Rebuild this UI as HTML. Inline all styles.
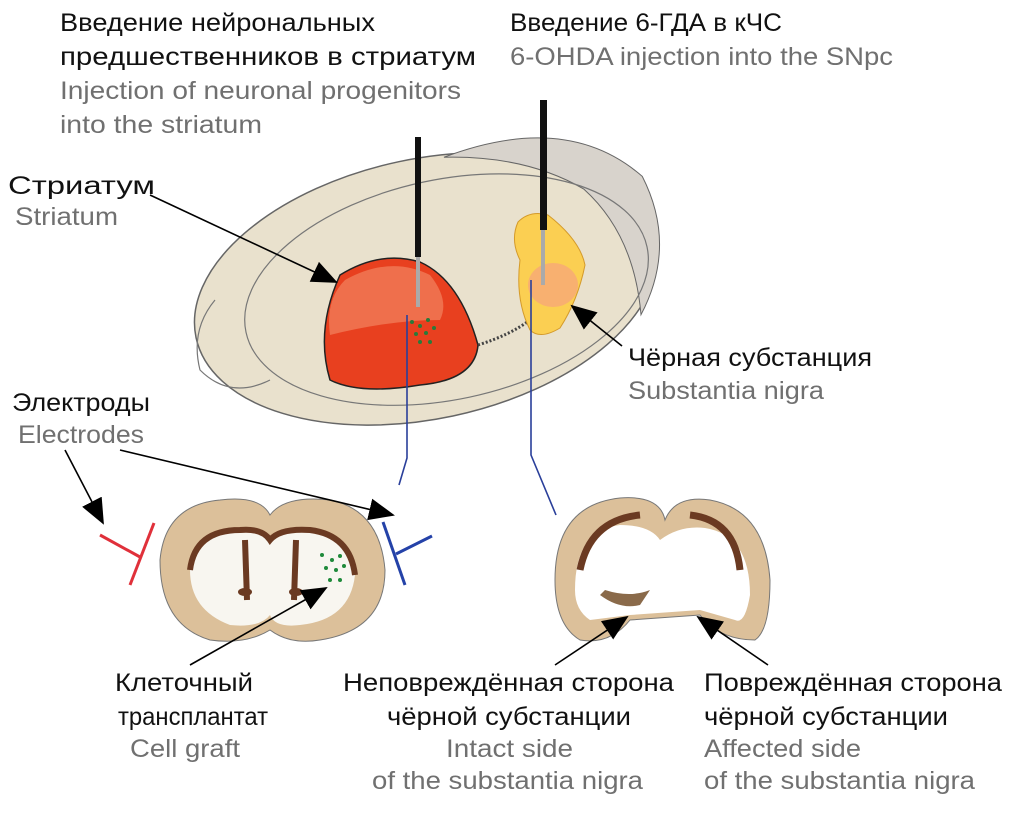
<!DOCTYPE html>
<html><head><meta charset="utf-8"><style>
body{margin:0;background:#fff;width:1017px;height:808px;overflow:hidden}
svg text{font-family:"Liberation Sans","DejaVu Sans",sans-serif;font-size:25px}
.k{fill:#111}.g{fill:#707070}
</style></head><body>
<svg width="1017" height="808" viewBox="0 0 1017 808">
<defs>
<marker id="A" markerWidth="26" markerHeight="22" refX="24" refY="11" orient="auto" markerUnits="userSpaceOnUse"><path d="M0,0L26,11L0,22z" fill="#000"/></marker>
</defs>
<!-- brain -->
<g transform="rotate(-12 420 285)">
<ellipse cx="425" cy="290" rx="235" ry="130" fill="#e9e1cd" stroke="#666" stroke-width="1.5"/>
<path d="M470,165 Q600,145 660,225 Q680,300 630,360 Q640,280 600,225 Q550,180 470,165z" fill="#d8d3cc" stroke="#666"/>
<ellipse cx="445" cy="295" rx="205" ry="110" fill="none" stroke="#777" stroke-width="1.2"/>
</g>
<path d="M215,300 Q190,330 200,370 Q230,400 270,380" fill="none" stroke="#777" stroke-width="1.2"/>
<!-- striatum -->
<path d="M340,275 Q380,250 420,262 Q460,280 478,345 Q475,380 420,385 Q360,395 330,380 Q315,330 340,275z" fill="#e8401f" stroke="#222" stroke-width="1.5"/>
<path d="M345,280 Q390,255 430,275 Q450,300 440,320 Q390,320 330,335 Q325,300 345,280z" fill="#f07a58" opacity=".8"/>
<path d="M478,345 Q510,335 530,320" fill="none" stroke="#444" stroke-dasharray="2 2" stroke-width="3"/>
<!-- SN -->
<path d="M518,222 Q530,210 548,215 Q580,240 585,265 Q578,300 560,328 Q540,340 530,330 Q515,300 520,260 Q510,240 518,222z" fill="#fbcf52" stroke="#d49a2a"/>
<ellipse cx="553" cy="285" rx="25" ry="22" fill="#f8b070"/>
<!-- needles -->
<rect x="415" y="137" width="6" height="120" fill="#111"/><rect x="416" y="257" width="4" height="50" fill="#aaa"/>
<rect x="540" y="100" width="7" height="130" fill="#111"/><rect x="541" y="230" width="4" height="55" fill="#aaa"/>
<g fill="#2a7a3a"><circle cx="412" cy="322" r="2"/><circle cx="420" cy="326" r="2"/><circle cx="428" cy="320" r="2"/><circle cx="416" cy="334" r="2"/><circle cx="426" cy="333" r="2"/><circle cx="434" cy="328" r="2"/><circle cx="420" cy="342" r="2"/><circle cx="430" cy="342" r="2"/></g>
<!-- blue lines -->
<polyline points="407,315 407,458 399,485" fill="none" stroke="#2a3f9a" stroke-width="1.6"/>
<polyline points="531,280 531,455 556,515" fill="none" stroke="#2a3f9a" stroke-width="1.6"/>
<!-- left coronal -->
<path d="M160,560 Q165,505 220,500 Q260,495 270,515 Q285,495 330,500 Q380,510 385,570 Q385,630 320,640 Q290,645 270,630 Q245,645 210,640 Q160,625 160,560z" fill="#dcc09a" stroke="#777"/>
<path d="M190,570 Q195,530 240,530 Q262,528 270,540 Q280,528 310,530 Q350,535 355,575 Q350,620 300,625 Q275,628 270,615 Q260,628 230,625 Q190,610 190,570z" fill="#f8f6f0"/>
<path d="M190,570 Q195,530 240,530 Q262,528 270,540 Q280,528 310,530 Q350,535 355,575" fill="none" stroke="#6b3a22" stroke-width="6"/>
<path d="M245,540 L247,600 M296,540 L294,600" stroke="#6b3a22" stroke-width="6"/>
<ellipse cx="245" cy="592" rx="7" ry="4" fill="#6b3a22"/><ellipse cx="296" cy="592" rx="7" ry="4" fill="#6b3a22"/>
<g fill="#1f8a3a"><circle cx="322" cy="555" r="2"/><circle cx="332" cy="560" r="2"/><circle cx="340" cy="556" r="2"/><circle cx="326" cy="568" r="2"/><circle cx="336" cy="570" r="2"/><circle cx="344" cy="566" r="2"/><circle cx="330" cy="580" r="2"/><circle cx="340" cy="580" r="2"/></g>
<!-- electrodes -->
<line x1="100" y1="535" x2="140" y2="557" stroke="#e0303a" stroke-width="3"/><line x1="154" y1="523" x2="130" y2="585" stroke="#e0303a" stroke-width="3"/>
<line x1="383" y1="522" x2="405" y2="585" stroke="#2442a8" stroke-width="3"/><line x1="396" y1="554" x2="432" y2="536" stroke="#2442a8" stroke-width="3"/>
<!-- right coronal -->
<path d="M555,580 Q555,505 620,498 Q660,495 665,520 Q675,495 710,500 Q765,510 770,580 Q770,630 755,640 Q720,640 700,615 L630,620 Q610,645 580,640 Q555,625 555,580z" fill="#dcc09a" stroke="#777"/>
<path d="M575,590 Q575,530 620,525 Q650,525 660,540 Q680,525 705,528 Q750,535 750,595 Q745,625 735,620 L700,610 L630,615 L590,620 Q575,610 575,590z" fill="#fff"/>
<path d="M580,570 Q590,520 640,515 M740,570 Q735,520 690,515" fill="none" stroke="#6b3a22" stroke-width="7"/>
<path d="M600,595 Q620,610 640,605 L650,590 Q630,598 605,590z" fill="#8a6a4a"/>
<!-- arrows -->
<g stroke="#000" stroke-width="1.6" fill="none">
<line x1="150" y1="195" x2="336" y2="282" marker-end="url(#A)"/>
<line x1="622" y1="346" x2="572" y2="306" marker-end="url(#A)"/>
<line x1="65" y1="450" x2="103" y2="523" marker-end="url(#A)"/>
<line x1="120" y1="450" x2="393" y2="515" marker-end="url(#A)"/>
<line x1="190" y1="665" x2="326" y2="588" marker-end="url(#A)"/>
<line x1="555" y1="665" x2="627" y2="617" marker-end="url(#A)"/>
<line x1="768" y1="665" x2="698" y2="617" marker-end="url(#A)"/>
</g>
<!-- text -->
<text x="60" y="31" class="k" textLength="315" lengthAdjust="spacingAndGlyphs">Введение нейрональных</text>
<text x="60" y="65" class="k" textLength="416" lengthAdjust="spacingAndGlyphs">предшественников в стриатум</text>
<text x="60" y="99" class="g" textLength="401" lengthAdjust="spacingAndGlyphs">Injection of neuronal progenitors</text>
<text x="60" y="133" class="g" textLength="202" lengthAdjust="spacingAndGlyphs">into the striatum</text>
<text x="510" y="31" class="k" textLength="272" lengthAdjust="spacingAndGlyphs">Введение 6-ГДА в кЧС</text>
<text x="510" y="65" class="g" textLength="383" lengthAdjust="spacingAndGlyphs">6-OHDA injection into the SNpc</text>
<text x="8" y="194" class="k" textLength="147" lengthAdjust="spacingAndGlyphs">Стриатум</text>
<text x="15" y="225" class="g" textLength="103" lengthAdjust="spacingAndGlyphs">Striatum</text>
<text x="628" y="366" class="k" textLength="244" lengthAdjust="spacingAndGlyphs">Чёрная субстанция</text>
<text x="628" y="399" class="g" textLength="196" lengthAdjust="spacingAndGlyphs">Substantia nigra</text>
<text x="12" y="411" class="k" textLength="138" lengthAdjust="spacingAndGlyphs">Электроды</text>
<text x="18" y="443" class="g" textLength="126" lengthAdjust="spacingAndGlyphs">Electrodes</text>
<text x="115" y="691" class="k" textLength="138" lengthAdjust="spacingAndGlyphs">Клеточный</text>
<text x="118" y="725" class="k" textLength="150" lengthAdjust="spacingAndGlyphs">трансплантат</text>
<text x="130" y="757" class="g" textLength="110" lengthAdjust="spacingAndGlyphs">Cell graft</text>
<text x="343" y="691" class="k" textLength="331" lengthAdjust="spacingAndGlyphs">Неповреждённая сторона</text>
<text x="387" y="725" class="k" textLength="244" lengthAdjust="spacingAndGlyphs">чёрной субстанции</text>
<text x="446" y="757" class="g" textLength="127" lengthAdjust="spacingAndGlyphs">Intact side</text>
<text x="372" y="789" class="g" textLength="271" lengthAdjust="spacingAndGlyphs">of the substantia nigra</text>
<text x="704" y="691" class="k" textLength="298" lengthAdjust="spacingAndGlyphs">Повреждённая сторона</text>
<text x="704" y="725" class="k" textLength="244" lengthAdjust="spacingAndGlyphs">чёрной субстанции</text>
<text x="704" y="757" class="g" textLength="157" lengthAdjust="spacingAndGlyphs">Affected side</text>
<text x="704" y="789" class="g" textLength="271" lengthAdjust="spacingAndGlyphs">of the substantia nigra</text>
</svg>
</body></html>
